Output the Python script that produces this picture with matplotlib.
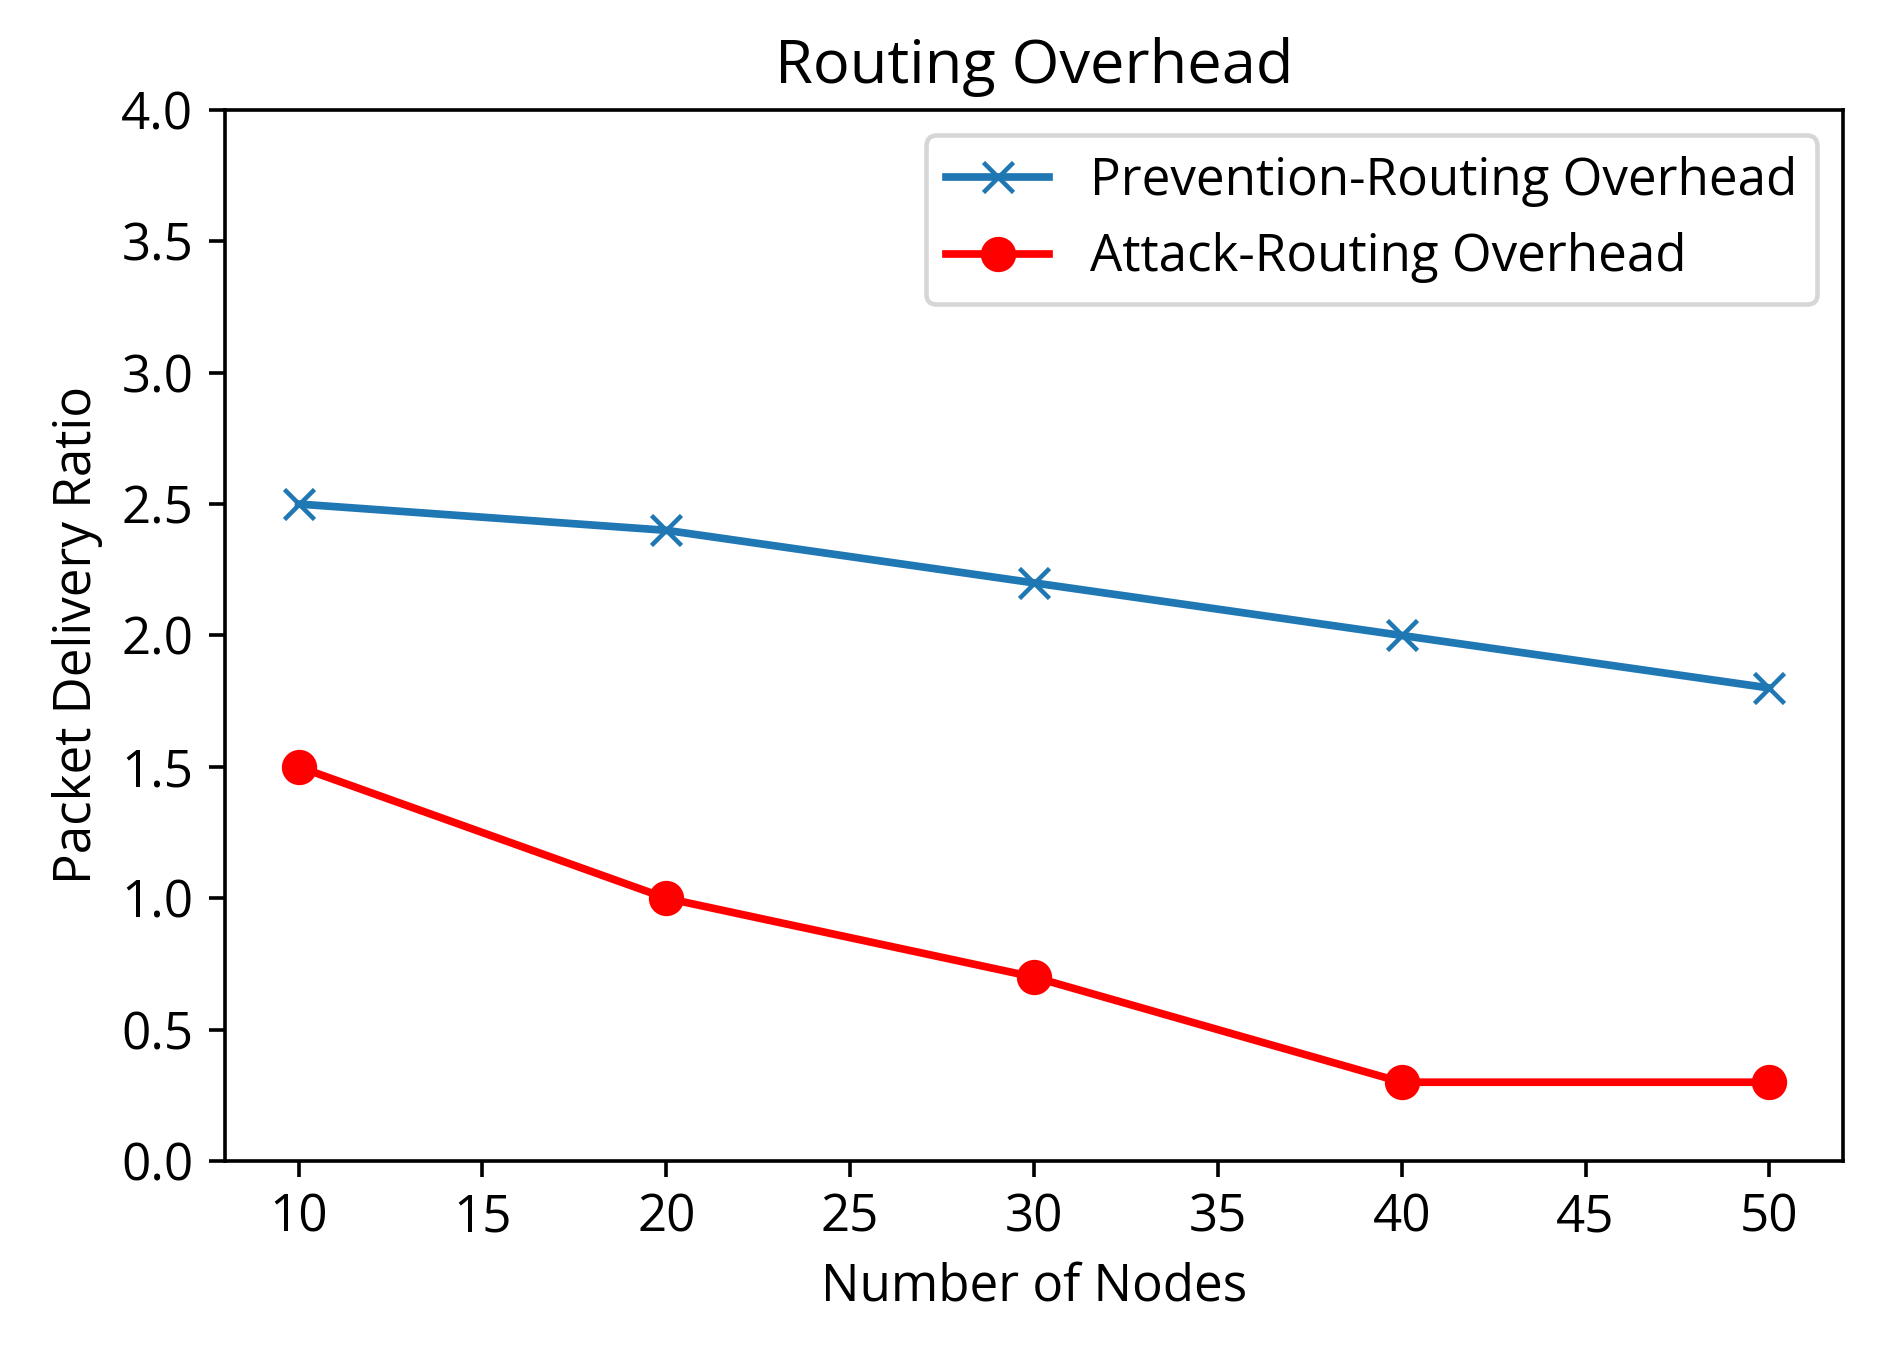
import matplotlib
matplotlib.use("Agg")
import matplotlib.pyplot as plt

# --- data ---
nodes = [10, 20, 30, 40, 50]
prevention = [2.5, 2.4, 2.2, 2.0, 1.8]
attack = [1.5, 1.0, 0.7, 0.3, 0.3]

plt.rcParams['font.family'] = ['Open Sans', 'DejaVu Sans']
plt.rcParams['font.size'] = 11.3
plt.rcParams['lines.linewidth'] = 1.7
plt.rcParams['lines.markersize'] = 6.8

fig = plt.figure(figsize=(1877 / 326, 1346 / 326), dpi=326)
ax = fig.add_axes([0.1199, 0.1374, 0.862, 0.781])

ax.plot(nodes, prevention, marker='x', color='#1f77b4', label='Prevention-Routing Overhead')
ax.plot(nodes, attack, marker='o', color='red', label='Attack-Routing Overhead')

ax.set_ylim(0, 4.0)
ax.set_title("Routing Overhead")
ax.set_xlabel("Number of Nodes")
ax.set_ylabel("Packet Delivery Ratio")
ax.legend(loc='upper right')

fig.savefig("out.png", dpi=326)
